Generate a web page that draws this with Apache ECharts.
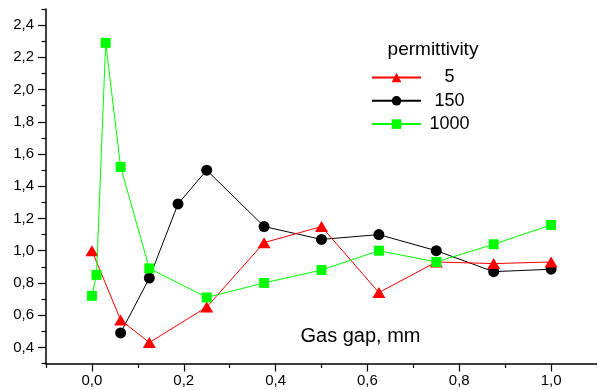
<!DOCTYPE html>
<html>
<head>
<meta charset="utf-8">
<script src="https://cdn.jsdelivr.net/npm/echarts@6/dist/echarts.min.js"></script>
<style>
html,body{margin:0;padding:0;background:#fff;}
#c{width:597px;height:390px;}
</style>
</head>
<body>
<div id="c"></div>
<script>
// ---- data ----
var legendTitle = 'permittivity';
var xTitle = 'Gas gap, mm';
var seriesNames = ['5', '150', '1000'];

var eps5_x = [0, 0.0625, 0.125, 0.25, 0.375, 0.5, 0.625, 0.75, 0.875, 1.0];
var eps5_y = [1.00, 0.57, 0.43, 0.65, 1.05, 1.15, 0.74, 0.93, 0.92, 0.93];

var eps150_x = [0.0625, 0.125, 0.1875, 0.25, 0.375, 0.5, 0.625, 0.75, 0.875, 1.0];
var eps150_y = [0.49, 0.83, 1.29, 1.50, 1.15, 1.07, 1.10, 1.00, 0.87, 0.885];

var eps1000_x = [0, 0.01, 0.03, 0.0625, 0.125, 0.25, 0.375, 0.5, 0.625, 0.75, 0.875, 1.0];
var eps1000_y = [0.72, 0.85, 2.29, 1.52, 0.89, 0.71, 0.80, 0.88, 1.00, 0.93, 1.04, 1.16];

var xMajorTicks = [0, 0.2, 0.4, 0.6, 0.8, 1.0];
var xMinorTicks = [-0.1, 0.1, 0.3, 0.5, 0.7, 0.9, 1.1];
var yMajorTicks = [0.4, 0.6, 0.8, 1.0, 1.2, 1.4, 1.6, 1.8, 2.0, 2.2, 2.4];
var yMinorTicks = [0.3, 0.5, 0.7, 0.9, 1.1, 1.3, 1.5, 1.7, 1.9, 2.1, 2.3, 2.5];

function pairs(xs, ys) { return xs.map(function (x, i) { return [x, ys[i]]; }); }
function fmt(v) { return v.toFixed(1).replace('.', ','); }

var FONT = '"Liberation Sans", Arial, sans-serif';
var chart = echarts.init(document.getElementById('c'), null, {renderer: 'canvas'});

var axisLineStyle = {color: '#000', width: 1.5};

var option = {
  backgroundColor: '#fff',
  animation: false,
  grid: {left: 46, right: 0, top: 9, bottom: 26.5, containLabel: false},
  xAxis: [
    {
      type: 'value', min: -0.1, max: 1.1,
      axisLine: {show: true, lineStyle: axisLineStyle, onZero: false},
      axisTick: {show: true, customValues: xMajorTicks, length: 8, inside: false, lineStyle: {color: '#000', width: 1.2}},
      axisLabel: {show: true, customValues: xMajorTicks, formatter: fmt, margin: 10, color: '#000', fontSize: 15, fontFamily: FONT},
      splitLine: {show: false}
    },
    {
      type: 'value', min: -0.1, max: 1.1, position: 'bottom',
      axisLine: {show: false, onZero: false},
      axisTick: {show: true, customValues: xMinorTicks, length: 4.5, lineStyle: {color: '#000', width: 1.2}},
      axisLabel: {show: false},
      splitLine: {show: false}
    }
  ],
  yAxis: [
    {
      type: 'value', min: 0.3, max: 2.5,
      axisLine: {show: true, lineStyle: axisLineStyle, onZero: false},
      axisTick: {show: true, customValues: yMajorTicks, length: 8, lineStyle: {color: '#000', width: 1.2}},
      axisLabel: {show: true, customValues: yMajorTicks, formatter: fmt, margin: 12, color: '#000', fontSize: 15, fontFamily: FONT},
      splitLine: {show: false}
    },
    {
      type: 'value', min: 0.3, max: 2.5, position: 'left',
      axisLine: {show: false, onZero: false},
      axisTick: {show: true, customValues: yMinorTicks, length: 4.5, lineStyle: {color: '#000', width: 1.2}},
      axisLabel: {show: false},
      splitLine: {show: false}
    }
  ],
  legend: {
    data: seriesNames,
    orient: 'vertical',
    left: 366, top: 63.5,
    itemWidth: 49, itemHeight: 12, itemGap: 5.3,
    formatter: function (n) { return '{t|' + n + '}'; },
    textStyle: {
      fontSize: 18, fontFamily: FONT, color: '#000', lineHeight: 18,
      rich: {t: {width: 47, align: 'center', fontSize: 18, fontFamily: FONT, color: '#000', lineHeight: 18}}
    }
  },
  graphic: [
    {type: 'text', x: 433, y: 50, style: {text: legendTitle, fontSize: 19, fontFamily: FONT, fill: '#000', align: 'center', verticalAlign: 'middle'}},
    {type: 'text', x: 360.5, y: 336, style: {text: xTitle, fontSize: 20, fontFamily: FONT, fill: '#000', align: 'center', verticalAlign: 'middle'}}
  ],
  series: [
    {
      name: '5', type: 'line', z: 3, data: pairs(eps5_x, eps5_y),
      symbol: 'triangle', symbolSize: [13, 11], showAllSymbol: true,
      lineStyle: {color: '#ff0000', width: 1}, itemStyle: {color: '#ff0000'}
    },
    {
      name: '150', type: 'line', z: 2, data: pairs(eps150_x, eps150_y),
      symbol: 'circle', symbolSize: 11, showAllSymbol: true,
      lineStyle: {color: '#000000', width: 1}, itemStyle: {color: '#000000'}
    },
    {
      name: '1000', type: 'line', z: 4, data: pairs(eps1000_x, eps1000_y),
      symbol: 'rect', symbolSize: 10, showAllSymbol: true,
      lineStyle: {color: '#00ff00', width: 1}, itemStyle: {color: '#00ff00'}
    }
  ]
};
chart.setOption(option);
</script>
</body>
</html>
